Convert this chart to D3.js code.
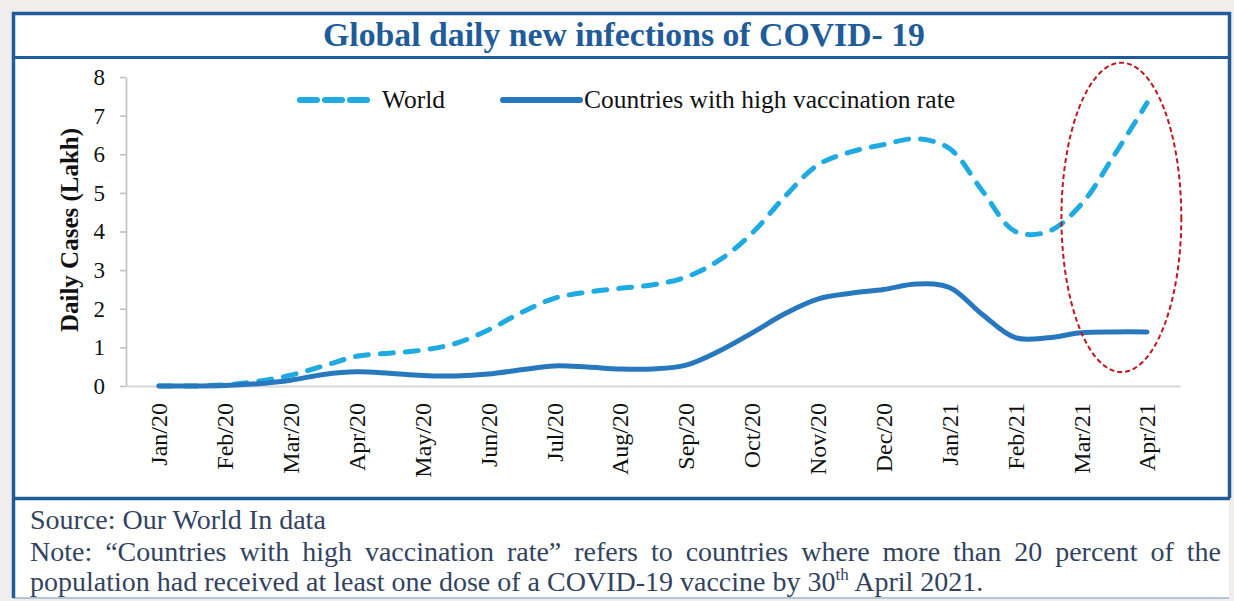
<!DOCTYPE html>
<html>
<head>
<meta charset="utf-8">
<script src="https://cdn.jsdelivr.net/npm/d3@7"></script>
<style>
    body { margin: 0; background: #f2eded; }
    svg { display: block; }
    text { font-family: "Liberation Serif", "Times New Roman", serif; }
</style>
</head>
<body>
<div id="chart"></div>
<script>
'use strict';

// month labels on the x axis
const months = ["Jan/20", "Feb/20", "Mar/20", "Apr/20", "May/20", "Jun/20", "Jul/20", "Aug/20",
    "Sep/20", "Oct/20", "Nov/20", "Dec/20", "Jan/21", "Feb/21", "Mar/21", "Apr/21"];
const yTicks = [0, 1, 2, 3, 4, 5, 6, 7, 8];

// daily cases (lakh), read every half month from Jan/20 to Apr/21
const worldCases = [0, 0, 0.03, 0.12, 0.28, 0.52, 0.77, 0.85, 0.93, 1.1, 1.45, 1.9, 2.27, 2.43, 2.53, 2.62,
    2.82, 3.25, 3.95, 4.9, 5.72, 6.06, 6.25, 6.4, 6.15, 5.05, 4.0, 4.0, 4.7, 5.97, 7.33];
const highVaxCases = [0, 0, 0.01, 0.06, 0.15, 0.3, 0.37, 0.33, 0.27, 0.26, 0.31, 0.42, 0.52, 0.49, 0.44, 0.44,
    0.54, 0.9, 1.37, 1.87, 2.25, 2.4, 2.5, 2.64, 2.55, 1.85, 1.25, 1.25, 1.38, 1.4, 1.4];
const stepsPerMonth = 2;

const seriesNames = ["World", "Countries with high vaccination rate"];

const titleText = "Global daily new infections of COVID- 19";
const yTitle = "Daily Cases (Lakh)";
const sourceText = "Source: Our World In data";
const noteText = "Note: \u201cCountries with high vaccination rate\u201d refers to countries where more than 20 percent of the";

const W = 1234, H = 601;
const frameColor = "#1f5c99";
const worldColor = "#1faae1";
const vaxColor = "#2878c0";
const noteColor = "#33435f";

const svg = d3.select("#chart").append("svg")
    .attr("width", W)
    .attr("height", H);

// frame
svg.append("rect")
    .attr("x", 13).attr("y", 12)
    .attr("width", 1216).attr("height", 586)
    .attr("fill", "#fff");
svg.append("line")
    .attr("x1", 13).attr("x2", 1229).attr("y1", 598).attr("y2", 598)
    .attr("stroke", "#9db6cf").attr("stroke-width", 1.5);
svg.append("path")
    .attr("d", "M13.5,598V13.5H1229.5V498")
    .attr("fill", "none")
    .attr("stroke", frameColor)
    .attr("stroke-width", 3.5);
svg.append("line")
    .attr("x1", 13).attr("x2", 1230).attr("y1", 57.5).attr("y2", 57.5)
    .attr("stroke", frameColor).attr("stroke-width", 3);
svg.append("line")
    .attr("x1", 13).attr("x2", 1230).attr("y1", 498.5).attr("y2", 498.5)
    .attr("stroke", frameColor).attr("stroke-width", 3.5);

svg.append("text")
    .attr("x", 624)
    .attr("y", 46)
    .attr("text-anchor", "middle")
    .attr("font-size", 33)
    .attr("font-weight", "bold")
    .attr("fill", frameColor)
    .attr("textLength", 602)
    .attr("lengthAdjust", "spacingAndGlyphs")
    .text(titleText);

// scales
const x = d3.scalePoint()
    .domain(months)
    .range([126, 1180])
    .padding(0.5);
const xMonth = d3.scaleLinear()
    .domain([0, months.length - 1])
    .range([x(months[0]), x(months[months.length - 1])]);
const y = d3.scaleLinear()
    .domain([0, 8])
    .range([386, 77]);

// axes
const yAxis = svg.append("g")
    .attr("transform", "translate(126,0)")
    .call(d3.axisLeft(y).tickValues(yTicks).tickSize(6).tickSizeOuter(0).tickPadding(15));
yAxis.select(".domain").attr("stroke", "#bdbdbd").attr("stroke-width", 1.5);
yAxis.selectAll(".tick line").attr("stroke", "#bdbdbd").attr("stroke-width", 1.5);
yAxis.selectAll(".tick text")
    .attr("font-family", "\"Liberation Serif\", serif")
    .attr("font-size", 23)
    .attr("fill", "#111");

const xAxis = svg.append("g")
    .attr("transform", "translate(0,386)")
    .call(d3.axisBottom(x).tickSize(0).tickSizeOuter(0));
xAxis.select(".domain").attr("stroke", "#d6d6d6").attr("stroke-width", 2);
xAxis.selectAll(".tick text")
    .attr("font-family", "\"Liberation Serif\", serif")
    .attr("font-size", 24)
    .attr("fill", "#111")
    .attr("transform", "rotate(-90)")
    .attr("text-anchor", "end")
    .attr("x", -17)
    .attr("y", 0)
    .attr("dy", "0.33em");

svg.append("text")
    .attr("transform", "translate(78,230) rotate(-90)")
    .attr("text-anchor", "middle")
    .attr("font-size", 25)
    .attr("font-weight", "bold")
    .attr("fill", "#111")
    .text(yTitle);

// lines
const line = d3.line()
    .x(function(d, i) { return xMonth(i / stepsPerMonth); })
    .y(function(d) { return y(d); })
    .curve(d3.curveCatmullRom.alpha(0.5));

svg.append("path")
    .datum(worldCases)
    .attr("fill", "none")
    .attr("stroke", worldColor)
    .attr("stroke-width", 5)
    .attr("stroke-linecap", "round")
    .attr("stroke-dasharray", "13,12")
    .attr("d", line);

svg.append("path")
    .datum(highVaxCases)
    .attr("fill", "none")
    .attr("stroke", vaxColor)
    .attr("stroke-width", 5)
    .attr("stroke-linecap", "round")
    .attr("d", line);

// red highlight round the last months
const highlight = {from: 13.7, to: 15.52, low: 0.36, high: 8.37};
svg.append("ellipse")
    .attr("cx", (xMonth(highlight.from) + xMonth(highlight.to)) / 2)
    .attr("cy", (y(highlight.low) + y(highlight.high)) / 2)
    .attr("rx", (xMonth(highlight.to) - xMonth(highlight.from)) / 2)
    .attr("ry", (y(highlight.low) - y(highlight.high)) / 2)
    .attr("fill", "none")
    .attr("stroke", "#c0161c")
    .attr("stroke-width", 2)
    .attr("stroke-dasharray", "5,3");

// legend
const legend = svg.append("g").attr("transform", "translate(0,100)");
legend.append("line")
    .attr("x1", 300).attr("x2", 367)
    .attr("stroke", worldColor)
    .attr("stroke-width", 6)
    .attr("stroke-linecap", "round")
    .attr("stroke-dasharray", "17,8");
legend.append("text")
    .attr("x", 382).attr("y", 8)
    .attr("font-size", 25.5)
    .attr("fill", "#111")
    .text(seriesNames[0]);
legend.append("line")
    .attr("x1", 503).attr("x2", 580)
    .attr("stroke", vaxColor)
    .attr("stroke-width", 6)
    .attr("stroke-linecap", "round");
legend.append("text")
    .attr("x", 584).attr("y", 8)
    .attr("font-size", 25.5)
    .attr("fill", "#111")
    .text(seriesNames[1]);

// footnote
svg.append("text")
    .attr("x", 30).attr("y", 529)
    .attr("font-size", 28)
    .attr("fill", noteColor)
    .text(sourceText);

// justified note line: spread the words from the left to the right edge
const noteWords = noteText.split(" ");
const noteG = svg.append("g");
const wordEls = noteWords.map(function(w) {
    return noteG.append("text")
        .attr("y", 561)
        .attr("font-size", 28)
        .attr("fill", noteColor)
        .text(w);
});
const widths = wordEls.map(function(t) { return t.node().getComputedTextLength(); });
const gap = (1221 - 30 - d3.sum(widths)) / (noteWords.length - 1);
let cursor = 30;
wordEls.forEach(function(t, i) {
    t.attr("x", cursor);
    cursor += widths[i] + gap;
});

const last = svg.append("text")
    .attr("x", 30).attr("y", 591)
    .attr("font-size", 28)
    .attr("fill", noteColor);
last.append("tspan").text("population had received at least one dose of a COVID-19 vaccine by 30");
last.append("tspan").attr("font-size", 17).attr("dy", -11).text("th");
last.append("tspan").attr("dy", 11).text(" April 2021.");
</script>
</body>
</html>
